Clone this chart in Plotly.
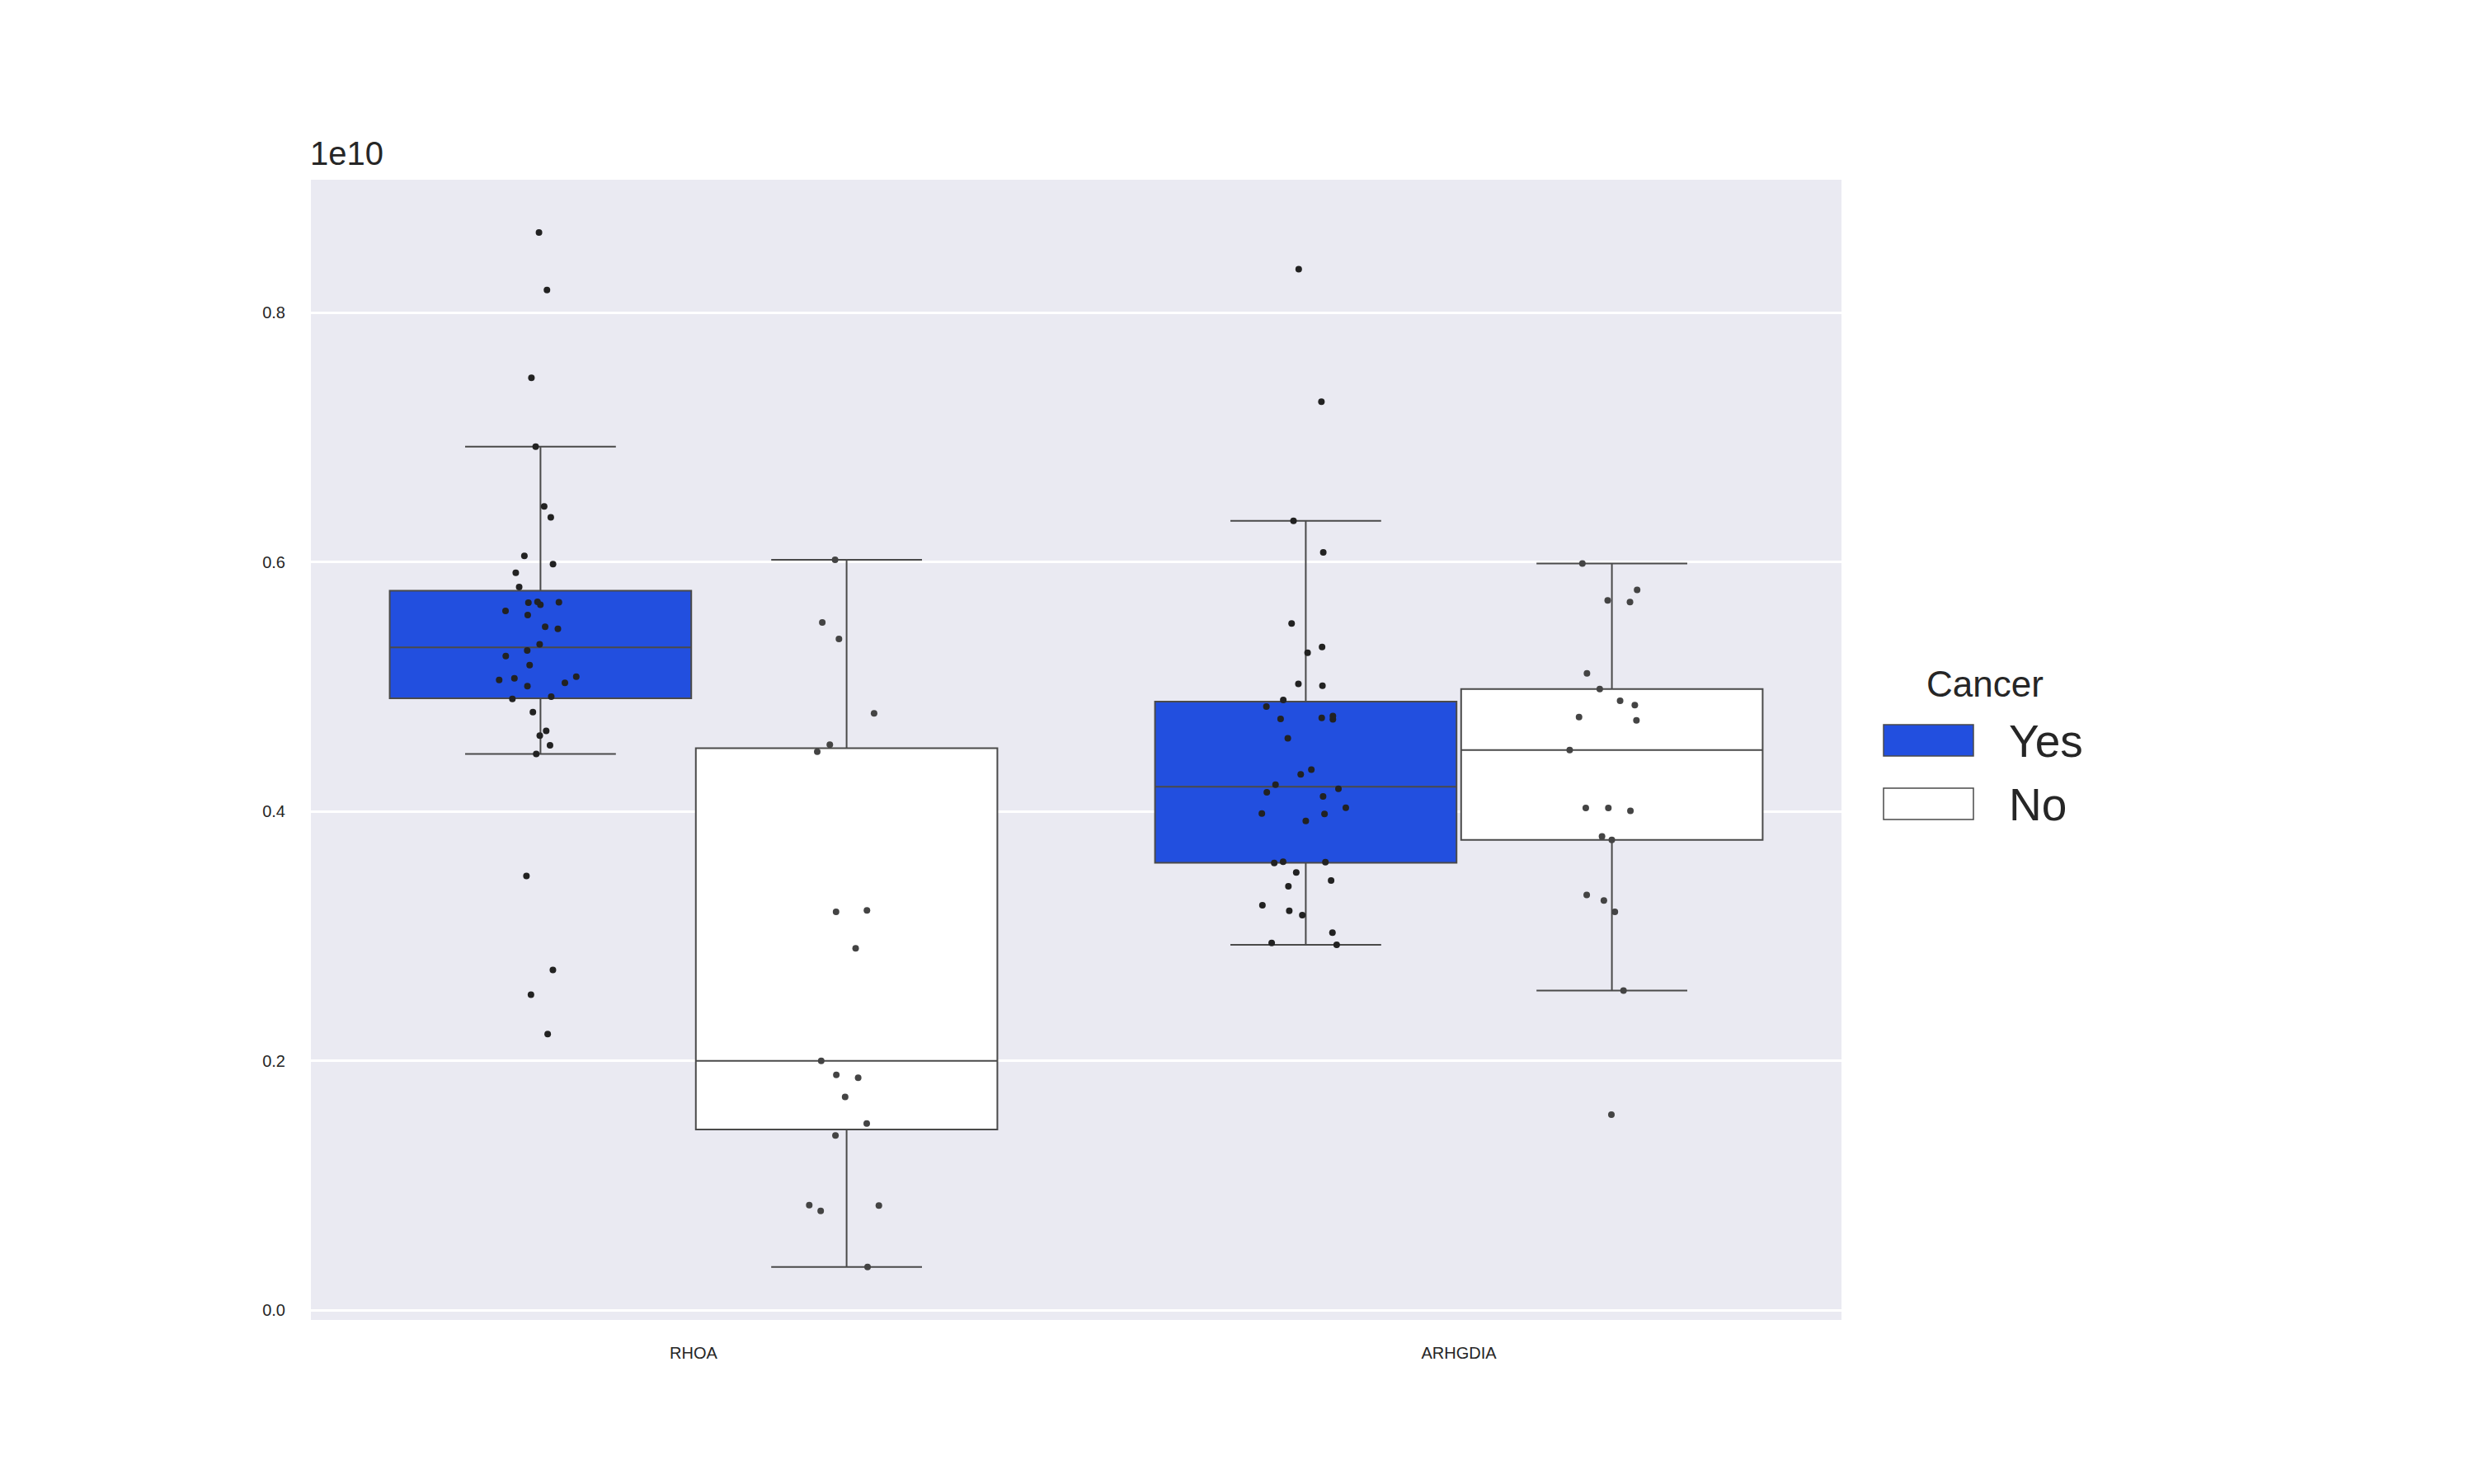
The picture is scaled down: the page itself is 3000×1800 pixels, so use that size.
import numpy as np
import plotly.graph_objects as go

# ---------------- data (values in units of 1e10) ----------------
genes = ["RHOA", "ARHGDIA"]
groups = ["Yes", "No"]
legend_title = "Cancer"
scale_label = "1e10"
y_ticks = [0.0, 0.2, 0.4, 0.6, 0.8]

rhoa_yes = [0.8644, 0.8182, 0.7479, 0.6926, 0.6447, 0.6359, 0.6050, 0.5985, 0.5915,
            0.5800, 0.5682, 0.5679, 0.5676, 0.5659, 0.5609, 0.5576, 0.5482, 0.5465,
            0.5341, 0.5291, 0.5247, 0.5174, 0.5082, 0.5068, 0.5056, 0.5032, 0.5006,
            0.4921, 0.4903, 0.4797, 0.4647, 0.4609, 0.4532, 0.4462, 0.3484, 0.2730,
            0.2531, 0.2216]
rhoa_no = [0.6019, 0.5517, 0.5384, 0.4788, 0.4537, 0.4480, 0.3207, 0.3196, 0.2903,
           0.2000, 0.1889, 0.1866, 0.1711, 0.1498, 0.1403, 0.0844, 0.0840, 0.0798,
           0.0347]
arhgdia_yes = [0.8349, 0.7287, 0.6332, 0.6078, 0.5509, 0.5319, 0.5274, 0.5024, 0.5009,
               0.4895, 0.4842, 0.4766, 0.4751, 0.4743, 0.4739, 0.4588, 0.4337, 0.4299,
               0.4216, 0.4182, 0.4155, 0.4121, 0.4030, 0.3985, 0.3981, 0.3924, 0.3598,
               0.3594, 0.3587, 0.3511, 0.3447, 0.3401, 0.3249, 0.3204, 0.3170, 0.3029,
               0.2946, 0.2931]
arhgdia_no = [0.5990, 0.5778, 0.5693, 0.5680, 0.5109, 0.4983, 0.4888, 0.4853, 0.4758,
              0.4732, 0.4494, 0.4029, 0.4029, 0.4006, 0.3800, 0.3772, 0.3331, 0.3287,
              0.3195, 0.2564, 0.1569]

data = {
    "Yes": [rhoa_yes, arhgdia_yes],
    "No": [rhoa_no, arhgdia_no],
}

# ---------------- styles ----------------
FONT = "Liberation Sans, Arial, sans-serif"
TXT = "#262626"
LINE = "#4a4a4a"
fills = {"Yes": "#224fdf", "No": "#ffffff"}
pt_colors = {"Yes": "#222222", "No": "#444444"}


def box_stats(vals):
    a = np.sort(np.asarray(vals, dtype=float))
    q1, med, q3 = np.percentile(a, [25, 50, 75])
    iqr = q3 - q1
    lo = a[a >= q1 - 1.5 * iqr].min()
    hi = a[a <= q3 + 1.5 * iqr].max()
    return q1, med, q3, lo, hi


fig = go.Figure()

# boxes (seaborn-style stats, whiskers at 1.5 IQR, no fliers)
for g in groups:
    stats = [box_stats(v) for v in data[g]]
    fig.add_trace(go.Box(
        x=genes,
        q1=[s[0] for s in stats],
        median=[s[1] for s in stats],
        q3=[s[2] for s in stats],
        lowerfence=[s[3] for s in stats],
        upperfence=[s[4] for s in stats],
        name=g,
        fillcolor=fills[g],
        line=dict(color=LINE, width=2),
        whiskerwidth=0.5,
        boxpoints=False,
        offsetgroup=g,
        alignmentgroup="genes",
        showlegend=False,
        hoverinfo="skip",
    ))

# strip points (dodged by hue, jittered by the library)
for g in groups:
    xs, ys = [], []
    for gene, vals in zip(genes, data[g]):
        xs += [gene] * len(vals)
        ys += list(vals)
    fig.add_trace(go.Box(
        x=xs, y=ys,
        name=g + " points",
        boxpoints="all",
        jitter=0.3,
        pointpos=0,
        fillcolor="rgba(0,0,0,0)",
        line=dict(color="rgba(0,0,0,0)", width=0),
        whiskerwidth=0,
        marker=dict(color=pt_colors[g], size=8),
        offsetgroup=g,
        alignmentgroup="genes",
        showlegend=False,
    ))

# ---------------- layout ----------------
W, H = 3000, 1800
L, R, T, B = 377, 3000 - 2233, 218, 1800 - 1601
pw, ph = W - L - R, H - T - B


def px(xp):
    return (xp - L) / pw


def py(yp):
    return (H - B - yp) / ph


shapes = []
annotations = []
# custom legend
legend_rects = {"Yes": (879, 917), "No": (956, 994)}
legend_text_y = {"Yes": 899, "No": 976}
for g in groups:
    y0, y1 = legend_rects[g]
    shapes.append(dict(type="rect", xref="paper", yref="paper",
                       x0=px(2284), x1=px(2393), y0=py(y1), y1=py(y0),
                       fillcolor=fills[g], line=dict(color=LINE, width=1.5)))
    annotations.append(dict(text=g, xref="paper", yref="paper",
                            x=px(2434), y=py(legend_text_y[g]),
                            xanchor="left", yanchor="middle", showarrow=False,
                            font=dict(family=FONT, size=55, color=TXT)))
annotations.append(dict(text=legend_title, xref="paper", yref="paper",
                        x=px(2407), y=py(829), xanchor="center", yanchor="middle",
                        showarrow=False, font=dict(family=FONT, size=44, color=TXT)))
annotations.append(dict(text=scale_label, xref="paper", yref="paper",
                        x=px(374), y=py(210), xanchor="left", yanchor="bottom",
                        showarrow=False, font=dict(family=FONT, size=40, color=TXT)))

fig.update_layout(
    width=W, height=H,
    margin=dict(l=L, r=R, t=T, b=B, pad=0),
    paper_bgcolor="white",
    plot_bgcolor="#EAEAF2",
    boxmode="group",
    boxgap=0.2,
    boxgroupgap=0.015,
    showlegend=False,
    font=dict(family=FONT, color=TXT, size=20),
    shapes=shapes,
    annotations=annotations,
)
fig.update_xaxes(
    type="category",
    categoryorder="array", categoryarray=genes,
    range=[-0.5, 1.5],
    showgrid=False, zeroline=False, showline=False,
    ticks="", ticklabelstandoff=26,
    tickfont=dict(family=FONT, size=20, color=TXT),
)
fig.update_yaxes(
    range=[-0.0077, 0.9067],
    tickvals=y_ticks, tickformat=".1f",
    showgrid=True, gridcolor="white", gridwidth=2.5,
    zeroline=False, showline=False,
    ticks="", ticklabelstandoff=30,
    tickfont=dict(family=FONT, size=20, color=TXT),
)

fig.write_html("out.html")
